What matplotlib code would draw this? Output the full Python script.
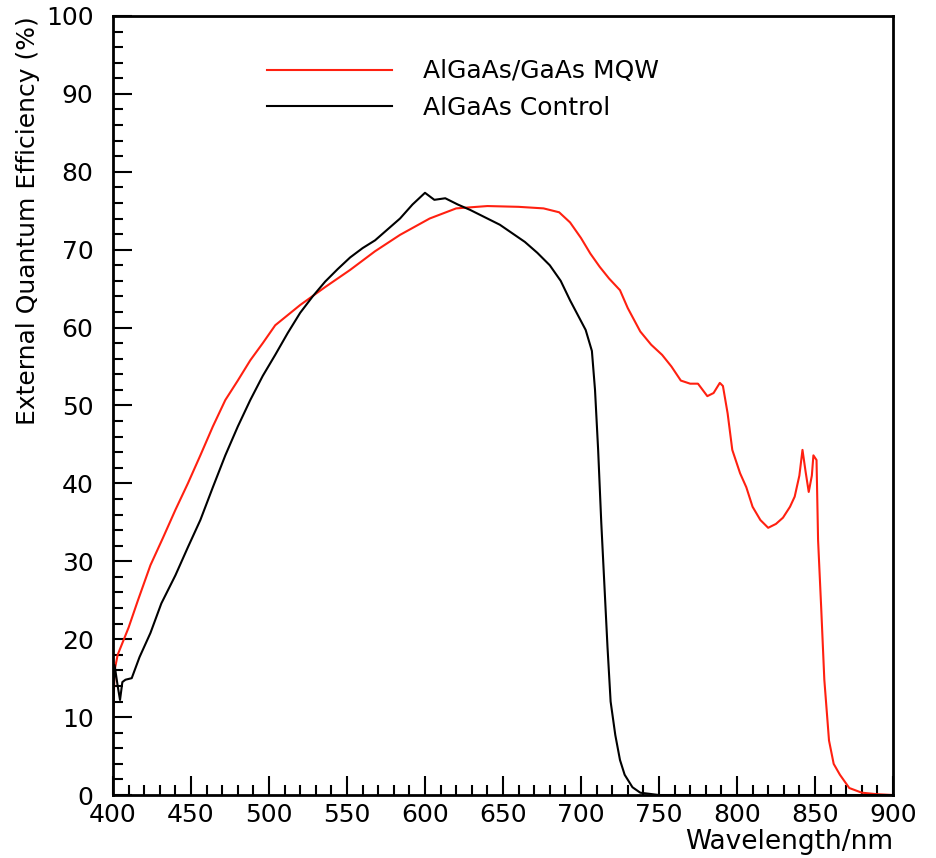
import numpy as np
import matplotlib
matplotlib.use("Agg")
import matplotlib.pyplot as plt
from matplotlib.ticker import MultipleLocator

# AlGaAs/GaAs MQW cell
wl_mqw = [400, 401, 403, 406, 410, 416, 424, 432, 440, 448, 456, 464, 472, 480,
          488, 496, 504, 512, 520, 536, 552, 568, 584, 603, 620, 640, 660, 676,
          686, 693, 700, 706, 712, 718, 725, 730, 738, 745, 752, 758, 764, 770,
          775, 781, 785, 789, 791, 794, 797, 802, 806, 810, 815, 820, 825, 829.5,
          834, 837, 840, 842, 844, 846, 848, 849, 851, 852, 854, 856, 859, 862,
          866, 872, 880, 890, 900]
eqe_mqw = [9, 16, 18, 19.5, 21.5, 25, 29.5, 33, 36.6, 40, 43.6, 47.3, 50.7, 53.2,
           55.8, 58, 60.3, 61.6, 62.9, 65.2, 67.4, 69.8, 71.9, 74, 75.3, 75.6, 75.5, 75.3,
           74.8, 73.5, 71.5, 69.5, 67.8, 66.3, 64.8, 62.5, 59.5, 57.8, 56.5, 55, 53.2, 52.8,
           52.8, 51.2, 51.6, 52.9, 52.5, 49, 44.3, 41.3, 39.5, 37, 35.3, 34.3, 34.8, 35.6,
           37, 38.3, 41, 44.3, 41.5, 38.9, 41, 43.6, 43, 32.7, 24, 14.8, 7, 4,
           2.6, 0.9, 0.3, 0.1, 0]

# AlGaAs control cell
wl_ctrl = [400, 401, 403, 404.5, 406, 408, 412, 417, 424, 431, 440, 448, 456, 464,
           472, 480, 488, 496, 504, 512, 520, 528, 536, 544, 552, 560, 568, 576,
           584, 592, 600, 606, 613, 621, 629, 638, 648, 656, 664, 672, 680, 687,
           693, 698, 703, 707, 709, 711, 713, 715, 717, 719, 722, 725, 728, 733,
           738, 750, 800, 900]
eqe_ctrl = [10, 16.7, 14, 12.2, 14.5, 14.8, 15, 17.7, 20.8, 24.6, 28.2, 31.8, 35.3, 39.5,
            43.6, 47.3, 50.7, 53.8, 56.5, 59.3, 61.9, 64, 65.9, 67.5, 69, 70.2, 71.2, 72.6,
            74, 75.8, 77.3, 76.4, 76.6, 75.8, 75.1, 74.2, 73.2, 72.1, 71, 69.6, 68, 66,
            63.5, 61.6, 59.7, 57, 52, 44.3, 35, 27, 19, 12, 7.7, 4.5, 2.6, 1,
            0.3, 0, 0, 0]

ylabel = "External Quantum Efficiency (%)"
xlabel = "Wavelength/nm"

plt.rcParams['font.family'] = ['DejaVu Sans']

fig = plt.figure(figsize=(9.37, 8.58), dpi=100)
ax = fig.add_axes([0.1206, 0.0734, 0.8324, 0.908])

ax.plot(wl_mqw, eqe_mqw, color='#ff2010', lw=1.5, label='AlGaAs/GaAs MQW')
ax.plot(wl_ctrl, eqe_ctrl, color='black', lw=1.5, label='AlGaAs Control')

ax.set_xlim(400, 900)
ax.set_ylim(0, 100)
ax.xaxis.set_major_locator(MultipleLocator(50))
ax.xaxis.set_minor_locator(MultipleLocator(10))
ax.yaxis.set_major_locator(MultipleLocator(10))
ax.yaxis.set_minor_locator(MultipleLocator(2))
ax.tick_params(which='both', direction='in', width=1.5, labelsize=18, colors='black')
ax.tick_params(which='major', length=14)
ax.tick_params(which='minor', length=7)
ax.tick_params(axis='x', pad=6)
ax.tick_params(axis='y', pad=14)
for s in ax.spines.values():
    s.set_linewidth(2)

ax.set_xlabel(xlabel, fontsize=19, loc='right', labelpad=1)
ax.set_ylabel(ylabel, fontsize=18, loc='top', labelpad=4)

ax.legend(loc='upper left', bbox_to_anchor=(0.169, 0.973), frameon=False,
          fontsize=18, handlelength=5.0, handletextpad=1.24, labelspacing=0.5)

fig.savefig('out.png', dpi=100)
